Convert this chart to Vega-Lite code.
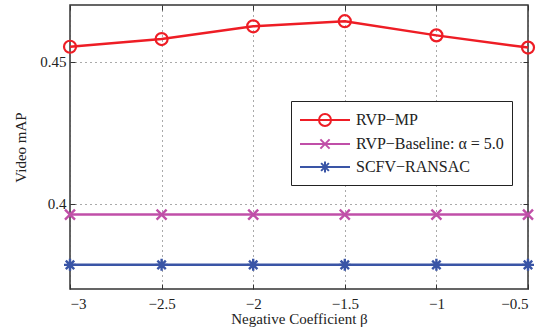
{
  "$schema": "https://vega.github.io/schema/vega-lite/v6.json",
  "width": 458,
  "height": 284,
  "autosize": {"type": "none"},
  "padding": {"left": 70, "top": 5, "right": 16, "bottom": 45},
  "background": "white",
  "config": {
    "view": {"stroke": "#333333", "strokeWidth": 1.5},
    "font": "Liberation Serif",
    "point": {"opacity": 1},
    "legend": {
      "title": null, "orient": "none", "legendX": 221, "legendY": 96,
      "padding": 8, "rowPadding": 3,
      "strokeColor": "#222222", "fillColor": "white",
      "symbolSize": 400, "symbolOffset": 15, "symbolStrokeWidth": 2, "symbolOpacity": 1, "labelOffset": 20,
      "labelFont": "Liberation Serif", "labelFontSize": 16, "labelColor": "#222222", "labelLimit": 300
    },
    "axis": {
      "labelFont": "Liberation Serif",
      "titleFont": "Liberation Serif",
      "labelFontSize": 15,
      "titleFontSize": 15,
      "titleFontWeight": "normal",
      "labelColor": "#222222",
      "titleColor": "#222222",
      "domain": false,
      "tickColor": "#333333",
      "tickSize": -5,
      "tickWidth": 1,
      "gridColor": "#555555",
      "gridDash": [1, 4],
      "gridWidth": 1
    }
  },
  "data": {
    "values": [
      {"beta": -3, "map": 0.4553, "series": "RVP−MP"},
      {"beta": -2.5, "map": 0.458, "series": "RVP−MP"},
      {"beta": -2, "map": 0.4625, "series": "RVP−MP"},
      {"beta": -1.5, "map": 0.4643, "series": "RVP−MP"},
      {"beta": -1, "map": 0.4593, "series": "RVP−MP"},
      {"beta": -0.5, "map": 0.455, "series": "RVP−MP"},
      {"beta": -3, "map": 0.3962, "series": "RVP−Baseline: α = 5.0"},
      {"beta": -2.5, "map": 0.3962, "series": "RVP−Baseline: α = 5.0"},
      {"beta": -2, "map": 0.3962, "series": "RVP−Baseline: α = 5.0"},
      {"beta": -1.5, "map": 0.3962, "series": "RVP−Baseline: α = 5.0"},
      {"beta": -1, "map": 0.3962, "series": "RVP−Baseline: α = 5.0"},
      {"beta": -0.5, "map": 0.3962, "series": "RVP−Baseline: α = 5.0"},
      {"beta": -3, "map": 0.3785, "series": "SCFV−RANSAC"},
      {"beta": -2.5, "map": 0.3785, "series": "SCFV−RANSAC"},
      {"beta": -2, "map": 0.3785, "series": "SCFV−RANSAC"},
      {"beta": -1.5, "map": 0.3785, "series": "SCFV−RANSAC"},
      {"beta": -1, "map": 0.3785, "series": "SCFV−RANSAC"},
      {"beta": -0.5, "map": 0.3785, "series": "SCFV−RANSAC"}
    ]
  },
  "layer": [
    {
      "mark": {"type": "line", "strokeWidth": 2.5},
      "encoding": {
        "x": {
          "field": "beta", "type": "quantitative",
          "scale": {"domain": [-3, -0.5], "nice": false, "zero": false},
          "axis": {"values": [-3, -2.5, -2, -1.5, -1, -0.5], "format": "~g", "title": "Negative Coefficient β", "labelFont": "Liberation Serif", "titleFont": "Liberation Serif", "labelPadding": 12, "titlePadding": 0, "grid": true}
        },
        "y": {
          "field": "map", "type": "quantitative",
          "scale": {"domain": [0.37, 0.47], "nice": false, "zero": false},
          "axis": {"values": [0.4, 0.45], "format": "~g", "title": "Video mAP", "labelFont": "Liberation Serif", "titleFont": "Liberation Serif", "labelPadding": 9, "titleX": -42, "grid": true}
        },
        "color": {
          "field": "series", "type": "nominal",
          "scale": {"domain": ["RVP−MP", "RVP−Baseline: α = 5.0", "SCFV−RANSAC"], "range": ["#ee1d25", "#c04fa8", "#3a55a6"]}
        }
      }
    },
    {
      "transform": [{"filter": "datum.series === 'RVP−MP'"}],
      "mark": {"type": "point", "filled": false, "opacity": 1, "strokeWidth": 2.2, "shape": "circle", "size": 144},
      "encoding": {
        "x": {"field": "beta", "type": "quantitative", "axis": {"orient": "top", "values": [-3, -2.5, -2, -1.5, -1, -0.5], "labels": false, "title": null, "grid": false}},
        "y": {"field": "map", "type": "quantitative", "axis": {"orient": "right", "values": [0.4, 0.45], "labels": false, "title": null, "grid": false}},
        "color": {"field": "series", "type": "nominal"}
      }
    },
    {
      "transform": [{"filter": "datum.series === 'RVP−Baseline: α = 5.0'"}],
      "mark": {"type": "point", "filled": false, "opacity": 1, "strokeWidth": 2.4, "shape": "M-1,-1L1,1M-1,1L1,-1", "size": 100},
      "encoding": {
        "x": {"field": "beta", "type": "quantitative", "axis": null},
        "y": {"field": "map", "type": "quantitative", "axis": null},
        "color": {"field": "series", "type": "nominal"}
      }
    },
    {
      "transform": [{"filter": "datum.series === 'SCFV−RANSAC'"}],
      "mark": {"type": "point", "filled": false, "opacity": 1, "strokeWidth": 2.4, "shape": "M-1,0L1,0M0,-1L0,1M-0.7,-0.7L0.7,0.7M-0.7,0.7L0.7,-0.7", "size": 144},
      "encoding": {
        "x": {"field": "beta", "type": "quantitative", "axis": null},
        "y": {"field": "map", "type": "quantitative", "axis": null},
        "color": {"field": "series", "type": "nominal"}
      }
    },
    {
      "transform": [{"filter": "false"}],
      "mark": {"type": "point", "filled": false, "opacity": 1, "strokeWidth": 2},
      "encoding": {
        "color": {"field": "series", "type": "nominal"},
        "shape": {
          "field": "series", "type": "nominal",
          "scale": {"domain": ["RVP−MP", "RVP−Baseline: α = 5.0", "SCFV−RANSAC"], "range": [
            "M-2.5,0L2.5,0M-0.6,0A0.6,0.6,0,1,1,0.6,0A0.6,0.6,0,1,1,-0.6,0Z",
            "M-2.5,0L2.5,0M-0.46,-0.46L0.46,0.46M-0.46,0.46L0.46,-0.46",
            "M-2.5,0L2.5,0M0,-0.55L0,0.55M-0.39,-0.39L0.39,0.39M-0.39,0.39L0.39,-0.39"
          ]}
        }
      }
    }
  ],
  "resolve": {
    "axis": {"x": "independent", "y": "independent"}
  }
}
